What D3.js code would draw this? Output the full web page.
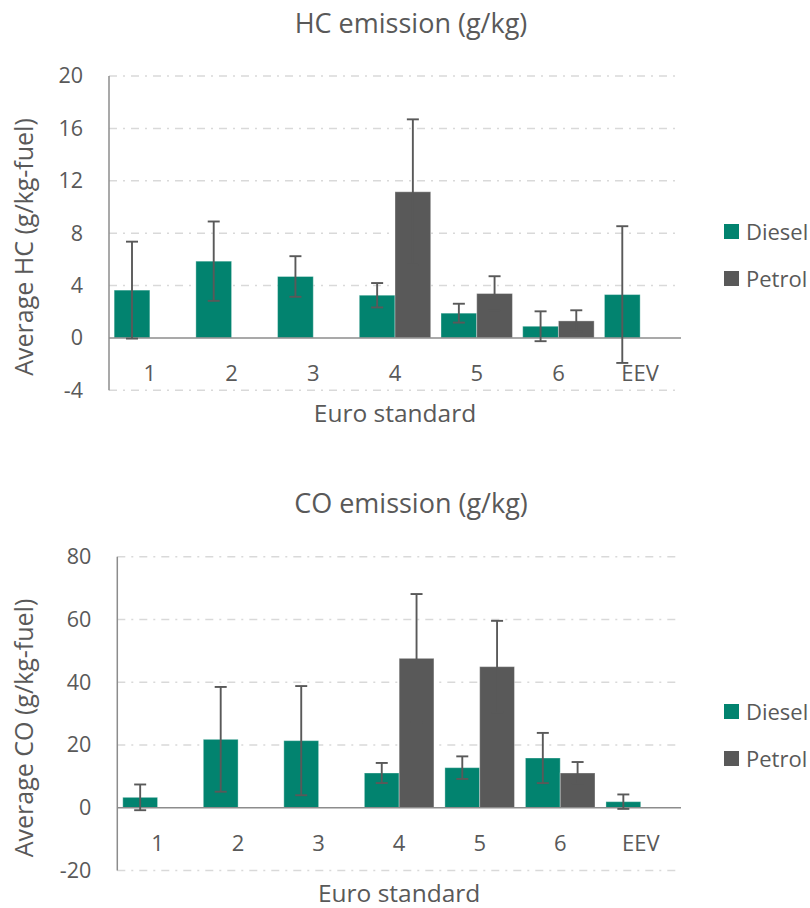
<!DOCTYPE html>
<html>
<head>
<meta charset="utf-8">
<script src="https://cdn.jsdelivr.net/npm/d3@7/dist/d3.min.js"></script>
<style>
  html, body { margin: 0; padding: 0; background: #ffffff; }
  svg { display: block; font-family: "Open Sans", "Noto Sans", sans-serif; }
</style>
</head>
<body>
<svg id="chart" width="810" height="908"></svg>
<script>
const categories = ["1", "2", "3", "4", "5", "6", "EEV"];
const seriesNames = ["Diesel", "Petrol"];

const hcDiesel    = [3.65, 5.86, 4.69, 3.26, 1.89, 0.89, 3.31];
const hcDieselErr = [3.70, 3.03, 1.55, 0.93, 0.72, 1.14, 5.22];
const hcPetrol    = [null, null, null, 11.16, 3.39, 1.30, null];
const hcPetrolErr = [null, null, null, 5.53, 1.32, 0.81, null];
const hcTicks = [-4, 0, 4, 8, 12, 16, 20];

const coDiesel    = [3.29, 21.78, 21.36, 11.05, 12.75, 15.83, 1.91];
const coDieselErr = [4.1, 16.7, 17.4, 3.2, 3.6, 8.0, 2.3];
const coPetrol    = [null, null, null, 47.6, 44.95, 11.05, null];
const coPetrolErr = [null, null, null, 20.5, 14.6, 3.5, null];
const coTicks = [-20, 0, 20, 40, 60, 80];

const COLORS = { Diesel: "#02836f", Petrol: "#595959" };
const TEXT = "#595959";

const svg = d3.select("#chart");

function drawChart(cfg) {
  const g = svg.append("g");
  const x = d3.scaleBand().domain(categories).range([cfg.x0, cfg.x1]).paddingInner(0).paddingOuter(0);
  const y = d3.scaleLinear().domain([cfg.ticks[0], cfg.ticks[cfg.ticks.length - 1]]).range([cfg.yBottom, cfg.yTop]);
  const bw = x.bandwidth() * cfg.barFrac;

  // title
  g.append("text").attr("x", cfg.titleX).attr("y", cfg.titleY)
    .attr("text-anchor", "middle").attr("font-size", 27).attr("fill", TEXT)
    .text(cfg.title);

  // gridlines
  g.append("g").selectAll("line").data(cfg.ticks.filter(t => t !== 0)).join("line")
    .attr("x1", cfg.x0).attr("x2", cfg.x1)
    .attr("y1", d => y(d)).attr("y2", d => y(d))
    .attr("stroke", "#d9d9d9").attr("stroke-width", 1.5)
    .attr("stroke-dasharray", "8,6,2,6");

  // y tick labels via axis
  const yAxis = g.append("g").attr("transform", `translate(${cfg.x0 - 26},0)`)
    .call(d3.axisLeft(y).tickValues(cfg.ticks).tickSize(0).tickPadding(0).tickFormat(d => String(d)));
  yAxis.select(".domain").remove();
  yAxis.selectAll("text").attr("font-size", 21.5).attr("fill", TEXT)
    .attr("font-family", "'Open Sans', 'Noto Sans', sans-serif");

  const rows = categories.map((c, i) => ({
    cat: c,
    vals: [
      { s: "Diesel", v: cfg.diesel[i], e: cfg.dieselErr[i] },
      { s: "Petrol", v: cfg.petrol[i], e: cfg.petrolErr[i] }
    ].filter(d => d.v !== null)
  }));
  const flat = [];
  rows.forEach(r => r.vals.forEach(d => {
    const cx = x(r.cat) + x.bandwidth() / 2;
    flat.push({ ...d, left: d.s === "Diesel" ? cx - bw : cx });
  }));

  // bars
  g.append("g").selectAll("rect").data(flat).join("rect")
    .attr("x", d => d.left)
    .attr("width", bw)
    .attr("y", d => y(Math.max(0, d.v)))
    .attr("height", d => Math.abs(y(d.v) - y(0)))
    .attr("fill", d => COLORS[d.s])
    .attr("stroke", "#ffffff").attr("stroke-opacity", 0.35).attr("stroke-width", 1);

  // zero axis line
  g.append("line").attr("x1", cfg.x0).attr("x2", cfg.x1)
    .attr("y1", y(0)).attr("y2", y(0))
    .attr("stroke", "#8c8c8c").attr("stroke-width", 1.5);

  // category labels via bottom axis at zero line
  const xAxis = g.append("g").attr("transform", `translate(0,${y(0)})`)
    .call(d3.axisBottom(x).tickSize(0).tickPadding(0));
  xAxis.select(".domain").remove();
  xAxis.selectAll("text").attr("font-size", 22).attr("fill", TEXT)
    .attr("dy", null).attr("y", 43).attr("dominant-baseline", "auto")
    .attr("font-family", "'Open Sans', 'Noto Sans', sans-serif");

  // error bars
  const eb = g.append("g").attr("stroke", "#595959").attr("stroke-width", 1.9).attr("fill", "none");
  flat.forEach(d => {
    const cx = d.left + bw / 2;
    const lo = y(d.v - d.e), hi = y(d.v + d.e);
    eb.append("line").attr("x1", cx).attr("x2", cx).attr("y1", lo).attr("y2", hi);
    eb.append("line").attr("x1", cx - 6).attr("x2", cx + 6).attr("y1", lo).attr("y2", lo);
    eb.append("line").attr("x1", cx - 6).attr("x2", cx + 6).attr("y1", hi).attr("y2", hi);
  });

  // y axis line
  g.append("line").attr("x1", cfg.x0).attr("x2", cfg.x0)
    .attr("y1", cfg.yTop).attr("y2", cfg.yBottom)
    .attr("stroke", "#8c8c8c").attr("stroke-width", 1.5);

  // axis titles
  g.append("text").attr("x", (cfg.x0 + cfg.x1) / 2).attr("y", cfg.xTitleY)
    .attr("text-anchor", "middle").attr("font-size", 24.5).attr("fill", TEXT)
    .text("Euro standard");
  g.append("text")
    .attr("transform", `translate(33,${cfg.yTitleCY}) rotate(-90)`)
    .attr("text-anchor", "middle").attr("font-size", 25).attr("fill", TEXT)
    .text(cfg.yTitle);

  // legend
  const lg = g.append("g");
  seriesNames.forEach((s, i) => {
    const ly = cfg.legendY + i * 47;
    lg.append("rect").attr("x", 724).attr("y", ly).attr("width", 15).attr("height", 15)
      .attr("fill", COLORS[s]);
    lg.append("text").attr("x", 746).attr("y", ly + 15.5).attr("font-size", 22)
      .attr("fill", TEXT).text(s);
  });
}

drawChart({
  title: "HC emission (g/kg)", titleX: 411, titleY: 33,
  x0: 109, x1: 681, yTop: 76, yBottom: 390.3, ticks: hcTicks, barFrac: 0.437,
  diesel: hcDiesel, dieselErr: hcDieselErr, petrol: hcPetrol, petrolErr: hcPetrolErr,
  xTitleY: 422, yTitle: "Average HC (g/kg-fuel)", yTitleCY: 247, legendY: 224
});

drawChart({
  title: "CO emission (g/kg)", titleX: 411, titleY: 513,
  x0: 117.3, x1: 681, yTop: 556.7, yBottom: 870.4, ticks: coTicks, barFrac: 0.432,
  diesel: coDiesel, dieselErr: coDieselErr, petrol: coPetrol, petrolErr: coPetrolErr,
  xTitleY: 902, yTitle: "Average CO (g/kg-fuel)", yTitleCY: 728, legendY: 704
});
</script>
</body>
</html>
